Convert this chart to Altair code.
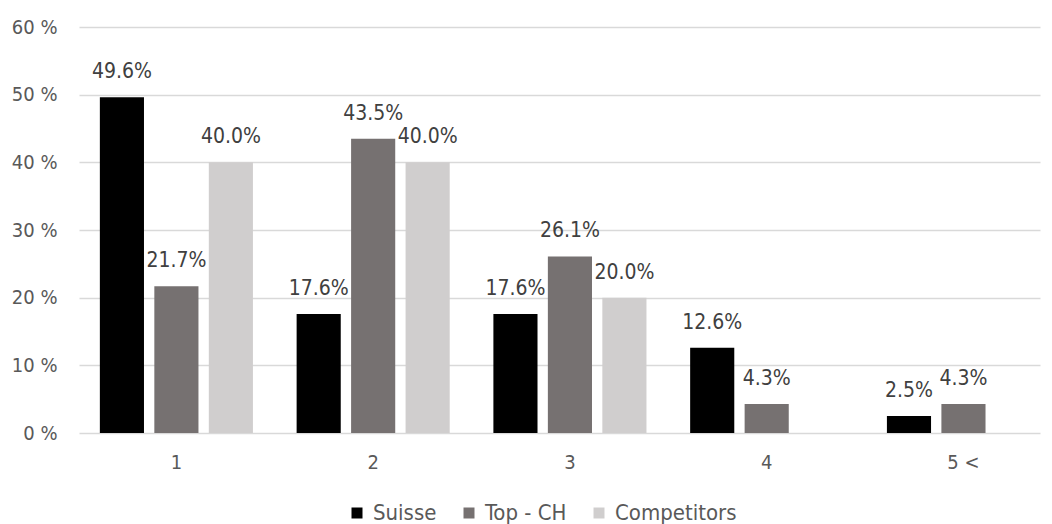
import altair as alt
import pandas as pd

categories = ["1", "2", "3", "4", "5 <"]
series = ["Suisse", "Top - CH", "Competitors"]
suisse = [49.6, 17.6, 17.6, 12.6, 2.5]
top_ch = [21.7, 43.5, 26.1, 4.3, 4.3]
competitors = [40.0, 40.0, 20.0, None, None]
colors = ["#000000", "#767171", "#D0CECE"]

rows = []
for name, vals in zip(series, [suisse, top_ch, competitors]):
    for c, v in zip(categories, vals):
        if v is not None:
            rows.append({"cat": c, "series": name, "value": v, "label": f"{v:.1f}%"})
df = pd.DataFrame(rows)

FONT = "DejaVu Sans Condensed, DejaVu Sans"

base = alt.Chart(df).encode(
    x=alt.X("cat:N", sort=categories, title=None,
            scale=alt.Scale(paddingInner=0.222, paddingOuter=0.053, align=1),
            axis=alt.Axis(labelAngle=0, labelFontSize=20, labelColor="#595959",
                          labelFont=FONT, ticks=False, domain=False, labelPadding=19)),
    xOffset=alt.XOffset("series:N", sort=series,
                        scale=alt.Scale(paddingInner=0.19, paddingOuter=0)),
    y=alt.Y("value:Q", title=None,
            scale=alt.Scale(domain=[0, 60], nice=False),
            axis=alt.Axis(values=[0, 10, 20, 30, 40, 50, 60], labelExpr="datum.value + ' %'",
                          labelFontSize=20, labelColor="#595959", labelFont=FONT,
                          ticks=False, domain=False, labelPadding=22,
                          gridColor="#D9D9D9", gridWidth=1.5)),
)

bars = base.mark_bar().encode(
    color=alt.Color("series:N", sort=series,
                    scale=alt.Scale(domain=series, range=colors),
                    legend=alt.Legend(title=None, orient="none", direction="horizontal",
                                      legendX=267, legendY=475, symbolType="square",
                                      symbolSize=121, symbolStrokeWidth=0,
                                      labelFontSize=22, labelColor="#595959",
                                      labelFont=FONT, columnPadding=21, symbolOffset=0,
                                      labelOffset=5))
)

labels = base.mark_text(baseline="bottom", dy=-15, fontSize=21, font=FONT,
                        color="#404040").encode(text="label:N")

chart = (bars + labels).properties(
    width=961, height=406,
    autosize=alt.AutoSizeParams(type="none"),
    padding={"left": 79, "top": 27, "right": 12, "bottom": 91},
).configure_view(stroke=None).configure_axis(labelFont=FONT)

chart.save("out.html", embed_options={"renderer": "svg", "actions": False})
